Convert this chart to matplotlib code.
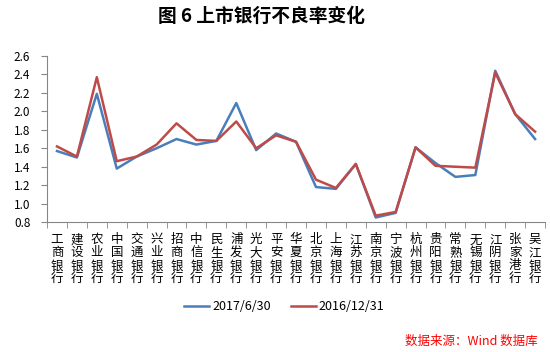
import numpy as np
import matplotlib.pyplot as plt

plt.rcParams['font.family'] = ['Noto Sans CJK SC', 'DejaVu Sans']

banks = ['工商银行', '建设银行', '农业银行', '中国银行', '交通银行', '兴业银行', '招商银行',
         '中信银行', '民生银行', '浦发银行', '光大银行', '平安银行', '华夏银行', '北京银行',
         '上海银行', '江苏银行', '南京银行', '宁波银行', '杭州银行', '贵阳银行', '常熟银行',
         '无锡银行', '江阴银行', '张家港行', '吴江银行']
npl_2017_06 = [1.57, 1.50, 2.19, 1.38, 1.51, 1.60, 1.70, 1.64, 1.68, 2.09, 1.58, 1.76, 1.67,
               1.18, 1.16, 1.43, 0.85, 0.90, 1.61, 1.44, 1.29, 1.31, 2.44, 1.97, 1.70]
npl_2016_12 = [1.62, 1.51, 2.37, 1.46, 1.51, 1.64, 1.87, 1.69, 1.68, 1.89, 1.60, 1.74, 1.67,
               1.26, 1.17, 1.43, 0.87, 0.91, 1.61, 1.41, 1.40, 1.39, 2.42, 1.97, 1.78]
yticks = np.arange(0.8, 2.61, 0.2)

fig = plt.figure(figsize=(5.5, 3.52), dpi=100)
ax = fig.add_axes([0.0855, 0.369, 0.9055, 0.472])

x = np.arange(len(banks))
ax.plot(x, npl_2017_06, color='#4a7ebb', lw=1.8, label='2017/6/30')
ax.plot(x, npl_2016_12, color='#be4b48', lw=1.8, label='2016/12/31')

ax.set_xlim(-0.5, len(banks) - 0.5)
ax.set_ylim(0.8, 2.6)
ax.set_yticks(yticks)
ax.set_yticklabels([f'{v:.1f}' for v in yticks], fontsize=8.5)

ax.set_xticks(x)
ax.set_xticklabels(['\n'.join(b) for b in banks], fontsize=9, linespacing=1.0)
ax.set_xticks(np.arange(-0.5, len(banks)), minor=True)
ax.tick_params(axis='x', which='major', length=0, pad=8)
ax.tick_params(axis='x', which='minor', length=4, color='#868686')
ax.tick_params(axis='y', length=4, color='#868686', pad=8)

for s in ['top', 'right']:
    ax.spines[s].set_visible(False)
for s in ['left', 'bottom']:
    ax.spines[s].set_color('#868686')

fig.text(0.476, 0.952, '图 6 上市银行不良率变化', ha='center', va='center',
         fontsize=13.5, fontweight='bold')
fig.legend(loc='center', bbox_to_anchor=(0.517, 0.128), ncol=2, frameon=False,
           fontsize=9, handlelength=2.0, handletextpad=0.25, columnspacing=1.6)
fig.text(0.977, 0.031, '数据来源：Wind 数据库', ha='right', va='center',
         color='red', fontsize=9, style='italic')

fig.savefig('out.png', dpi=100)
